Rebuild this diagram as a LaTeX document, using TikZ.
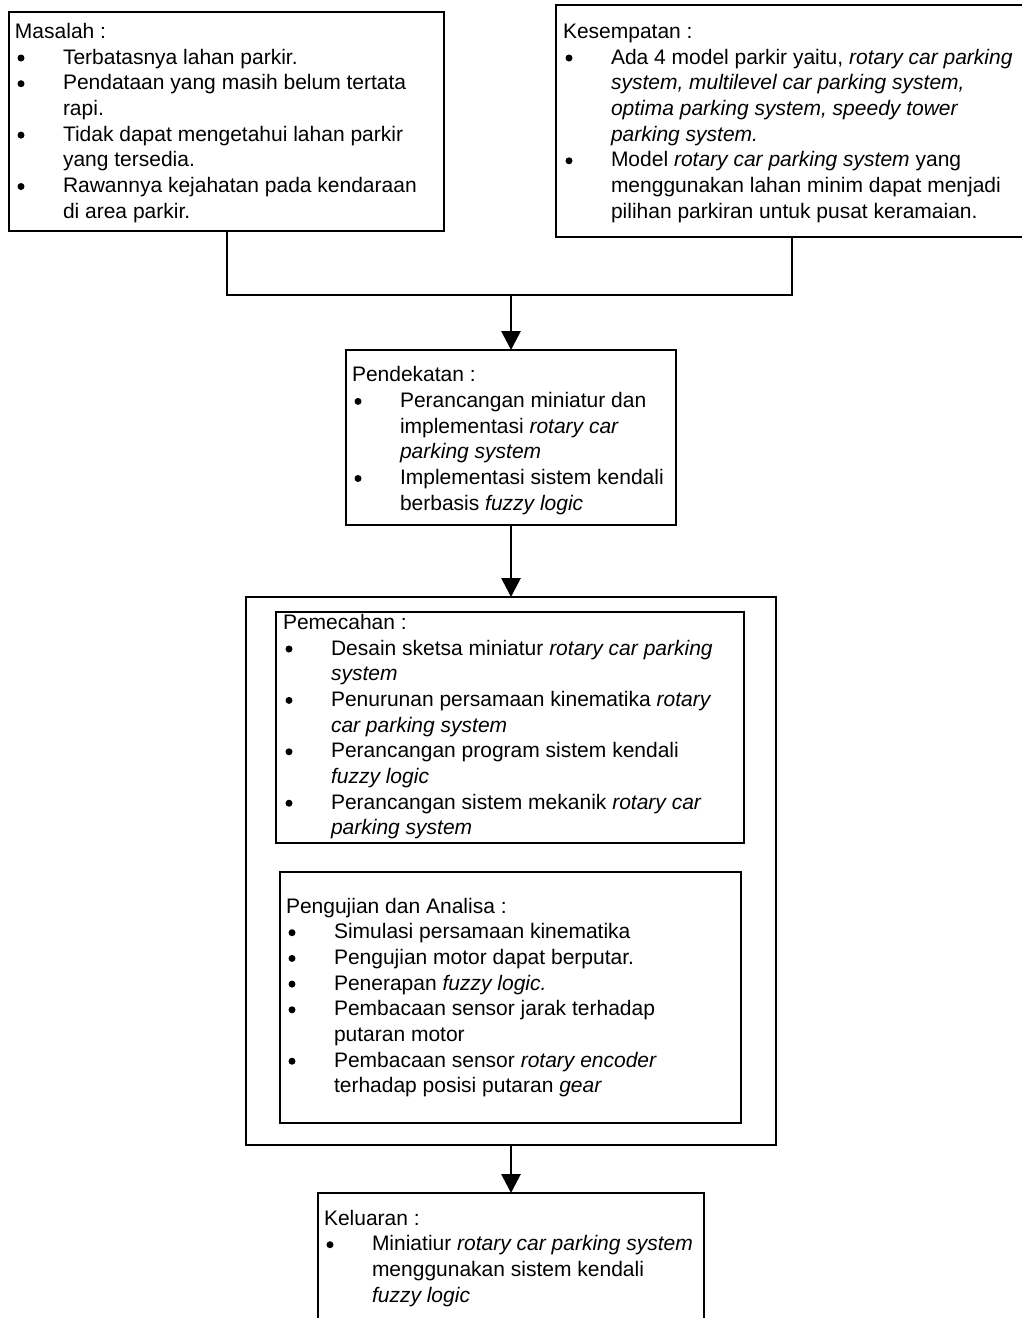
\documentclass[tikz,border=0pt]{standalone}
\usepackage{fontspec}
\setmainfont{Liberation Sans}
\usetikzlibrary{arrows.meta}
\tikzset{
  box/.style={draw, rectangle, line width=2.8pt, fill=white, inner sep=0pt, outer sep=0pt, anchor=north west},
  conn/.style={line width=2.8pt},
  arr/.style={line width=2.8pt, -{Triangle[length=19pt,width=19pt]}},
  txt/.style={anchor=base west, inner sep=0pt, outer sep=0pt, font=\fontsize{21}{25.7}\selectfont},
  bulletdot/.style={fill=black},
}
\newcommand\hng{\hspace*{48pt}}
% bullets: x of text start, first baseline, list of line indices
\newcommand\bulletsat[3]{%
  \foreach \k in {#3} {\fill[bulletdot] ({#1+6},{#2+25.7*\k-6}) circle (3.5pt);}}
\begin{document}
\begin{tikzpicture}[x=1pt,y=-1pt]
\useasboundingbox (0,0) rectangle (1022,1318);
\clip (0,0) rectangle (1022,1318);

% boxes
\node[box, minimum width=435pt, minimum height=219pt] (masalah) at (9,12) {};
\node[box, minimum width=474pt, minimum height=232pt] (kesempatan) at (556,5) {};
\node[box, minimum width=330pt, minimum height=175pt] (pendekatan) at (346,350) {};
\node[box, minimum width=530pt, minimum height=548pt] (outer) at (246,597) {};
\node[box, minimum width=468pt, minimum height=231pt] (pemecahan) at (276,612) {};
\node[box, minimum width=461pt, minimum height=251pt] (pengujian) at (280,872) {};
\node[box, minimum width=386pt, minimum height=160pt] (keluaran) at (318,1193) {};

% texts
\node[txt] (tmasalah) at (15,38.3) {\parbox[t]{600pt}{Masalah :\\
\hng Terbatasnya lahan parkir.\\
\hng Pendataan yang masih belum tertata\\
\hng rapi.\\
\hng Tidak dapat mengetahui lahan parkir\\
\hng yang tersedia.\\
\hng Rawannya kejahatan pada kendaraan\\
\hng di area parkir.}};
\bulletsat{15}{38.3}{1,2,4,6}

\node[txt] (tkesempatan) at (563,38.3) {\parbox[t]{600pt}{Kesempatan :\\
\hng Ada 4 model parkir yaitu, \textit{rotary car parking}\\
\hng\textit{system, multilevel car parking system,}\\
\hng\textit{optima parking system, speedy tower}\\
\hng\textit{parking system.}\\
\hng Model \textit{rotary car parking system} yang\\
\hng menggunakan lahan minim dapat menjadi\\
\hng pilihan parkiran untuk pusat keramaian.}};
\bulletsat{563}{38.3}{1,5}

\node[txt] (tpendekatan) at (352,381.7) {\parbox[t]{600pt}{Pendekatan :\\
\hng Perancangan miniatur dan\\
\hng implementasi \textit{rotary car}\\
\hng\textit{parking system}\\
\hng Implementasi sistem kendali\\
\hng berbasis \textit{fuzzy logic}}};
\bulletsat{352}{381.7}{1,4}

\node[txt] (tpemecahan) at (283,629.3) {\parbox[t]{600pt}{Pemecahan :\\
\hng Desain sketsa miniatur \textit{rotary car parking}\\
\hng\textit{system}\\
\hng Penurunan persamaan kinematika \textit{rotary}\\
\hng\textit{car parking system}\\
\hng Perancangan program sistem kendali\\
\hng\textit{fuzzy logic}\\
\hng Perancangan sistem mekanik \textit{rotary car}\\
\hng\textit{parking system}}};
\bulletsat{283}{629.3}{1,3,5,7}

\node[txt] (tpengujian) at (286,913) {\parbox[t]{600pt}{Pengujian dan Analisa :\\
\hng Simulasi persamaan kinematika\\
\hng Pengujian motor dapat berputar.\\
\hng Penerapan \textit{fuzzy logic.}\\
\hng Pembacaan sensor jarak terhadap\\
\hng putaran motor\\
\hng Pembacaan sensor \textit{rotary encoder}\\
\hng terhadap posisi putaran \textit{gear}}};
\bulletsat{286}{913}{1,2,3,4,6}

\node[txt] (tkeluaran) at (324,1225) {\parbox[t]{600pt}{Keluaran :\\
\hng Miniatiur \textit{rotary car parking system}\\
\hng menggunakan sistem kendali\\
\hng\textit{fuzzy logic}}};
\bulletsat{324}{1225}{1}

% connectors
\coordinate (jl) at (227,295);
\coordinate (jr) at (792,295);
\coordinate (jm) at (511,295);
\draw[conn] (masalah.south -| jl) -- (jl) -- (jr) -- (kesempatan.south -| jr);
\draw[arr] (jm) -- (pendekatan.north);
\draw[arr] (pendekatan.south) -- (outer.north);
\draw[arr] (outer.south) -- (keluaran.north);
\end{tikzpicture}
\end{document}
